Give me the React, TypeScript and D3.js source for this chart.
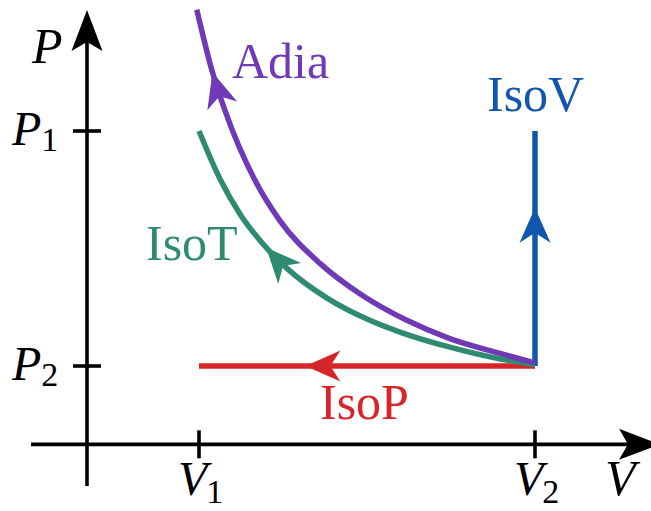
import React, { useEffect, useRef } from "react";
import * as d3 from "d3";

// ---- data ----
const volumeTicks = [1, 4];
const volumeTickSubs = ["1", "2"];
const pressureTicks = [4, 1];
const pressureTickSubs = ["1", "2"];

const adiabatV = [0.98, 1.12, 1.23, 1.5, 1.72, 2.08, 2.46, 2.86, 3.24, 3.69, 4.0];
const adiabatP = [5.55, 4.75, 4.27, 3.37, 2.86, 2.31, 1.9, 1.58, 1.35, 1.16, 1.04];
const isothermV = [1.0, 1.19, 1.37, 1.57, 1.79, 2.14, 2.53, 2.8, 3.24, 3.69, 4.0];
const isothermP = [4.0, 3.38, 2.93, 2.56, 2.24, 1.87, 1.58, 1.43, 1.24, 1.09, 1.02];
const isobarV = [1, 4];
const isobarP = [1, 1];
const isochoreV = [4, 4];
const isochoreP = [1, 4];

const processNames = ["Adia", "IsoT", "IsoP", "IsoV"];
const processColors = ["#7039B5", "#2E8B72", "#D7262A", "#1155AF"];
// arrow tip location along each process (V for curves/isobar, P for isochore)
const arrowTipV = [1.12, 1.6, 1.95, 4];
const arrowTipP = [NaN, NaN, 1, 3.02];

export default function App() {
  const ref = useRef<SVGSVGElement | null>(null);

  useEffect(() => {
    const svg = d3.select(ref.current);
    svg.selectAll("*").remove();

    const x = d3.scaleLinear().domain([1, 4]).range([199, 535]);
    const y = d3.scaleLinear().domain([1, 4]).range([366, 131]);
    const font = "'Liberation Serif', 'Times New Roman', serif";

    const head = (L: number, W: number, inset: number) =>
      `M0,0 L${-L},${-W} Q${-L + inset * 0.7},${-W * 0.3} ${-L + inset},0 Q${-L + inset * 0.7},${W * 0.3} ${-L},${W} Z`;

    // axes
    const x0 = x(0), y0 = y(0);
    svg.append("line").attr("x1", 31).attr("x2", 640).attr("y1", y0).attr("y2", y0)
      .attr("stroke", "#000").attr("stroke-width", 3.6);
    svg.append("line").attr("x1", x0).attr("x2", x0).attr("y1", 486).attr("y2", 30)
      .attr("stroke", "#000").attr("stroke-width", 3.6);
    svg.append("path").attr("d", head(41, 15.5, 9))
      .attr("transform", `translate(${x0},10) rotate(-90)`).attr("fill", "#000");
    svg.append("path").attr("d", head(41, 15.5, 9))
      .attr("transform", `translate(660,${y0})`).attr("fill", "#000");

    // ticks
    volumeTicks.forEach((v, i) => {
      svg.append("line").attr("x1", x(v)).attr("x2", x(v)).attr("y1", y0 - 14).attr("y2", y0 + 14)
        .attr("stroke", "#000").attr("stroke-width", 3.6);
      const t = svg.append("text").attr("x", x(v) - 21).attr("y", 495)
        .attr("font-family", font).attr("font-size", 48).attr("font-style", "italic").attr("fill", "#000");
      t.append("tspan").text("V");
      t.append("tspan").attr("font-style", "normal").attr("font-size", 34).attr("dx", -1).attr("dy", 8)
        .text(volumeTickSubs[i]);
    });
    pressureTicks.forEach((p, i) => {
      svg.append("line").attr("x1", x0 - 14).attr("x2", x0 + 14).attr("y1", y(p)).attr("y2", y(p))
        .attr("stroke", "#000").attr("stroke-width", 3.6);
      const t = svg.append("text").attr("x", 12).attr("y", y(p) + 14)
        .attr("font-family", font).attr("font-size", 48).attr("font-style", "italic").attr("fill", "#000");
      t.append("tspan").text("P");
      t.append("tspan").attr("font-style", "normal").attr("font-size", 34).attr("dx", 0).attr("dy", 6)
        .text(pressureTickSubs[i]);
    });
    svg.append("text").attr("x", 32).attr("y", 63).attr("font-family", font).attr("font-size", 50)
      .attr("font-style", "italic").text("P");
    svg.append("text").attr("x", 605).attr("y", 495).attr("font-family", font).attr("font-size", 50)
      .attr("font-style", "italic").text("V");

    const line = d3.line<[number, number]>().x(d => x(d[0])).y(d => y(d[1]));
    const smooth = d3.line<[number, number]>().x(d => x(d[0])).y(d => y(d[1])).curve(d3.curveMonotoneX);

    const series: [number, number][][] = [
      adiabatV.map((v, i) => [v, adiabatP[i]]),
      isothermV.map((v, i) => [v, isothermP[i]]),
      isobarV.map((v, i) => [v, isobarP[i]]),
      isochoreV.map((v, i) => [v, isochoreP[i]]),
    ];

    // draw order: isobar, isochore, isotherm, adiabat
    [2, 3, 1, 0].forEach(k => {
      const color = processColors[k];
      const path = svg.append("path")
        .attr("d", k < 2 ? smooth(series[k]) : line(series[k]))
        .attr("fill", "none").attr("stroke", color).attr("stroke-width", 5.5);
      let tx: number, ty: number, ang: number;
      if (k < 2) {
        const node = path.node() as SVGPathElement;
        const total = node.getTotalLength();
        const target = x(arrowTipV[k]);
        let lo = 0, hi = total;
        for (let it = 0; it < 40; it++) {
          const mid = (lo + hi) / 2;
          if (node.getPointAtLength(mid).x < target) lo = mid; else hi = mid;
        }
        const p1 = node.getPointAtLength(lo);
        const p0 = node.getPointAtLength(Math.min(total, lo + 3));
        tx = p1.x; ty = p1.y;
        ang = (Math.atan2(p1.y - p0.y, p1.x - p0.x) * 180) / Math.PI;
      } else if (k === 2) {
        tx = x(arrowTipV[k]); ty = y(arrowTipP[k]); ang = 180;
      } else {
        tx = x(arrowTipV[k]); ty = y(arrowTipP[k]); ang = -90;
      }
      svg.append("path").attr("d", head(35, 15.5, 10))
        .attr("transform", `translate(${tx},${ty}) rotate(${ang})`).attr("fill", color);
    });

    // process labels
    const labelPos: [number, number][] = [[232, 78], [146, 260], [320, 419], [487, 111]];
    processNames.forEach((name, k) => {
      svg.append("text").attr("x", labelPos[k][0]).attr("y", labelPos[k][1])
        .attr("font-family", font).attr("font-size", 50).attr("fill", processColors[k]).text(name);
    });
  }, []);

  return (
    <svg
      ref={ref}
      width={651}
      height={511}
      style={{ position: "absolute", left: 0, top: 0, background: "#fff" }}
    />
  );
}
